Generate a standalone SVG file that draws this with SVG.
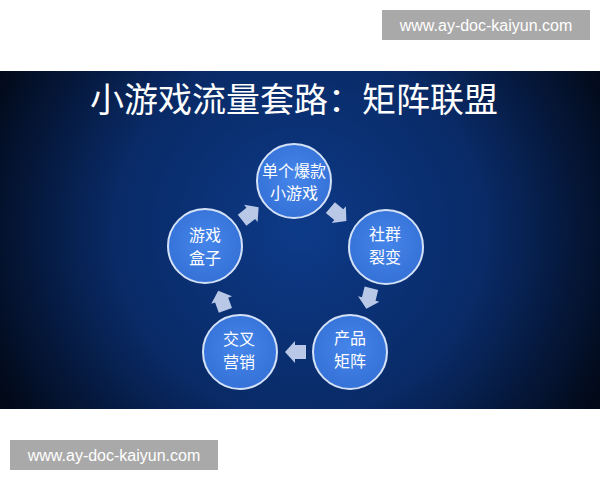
<svg xmlns="http://www.w3.org/2000/svg" width="600" height="480" viewBox="0 0 600 480">
<defs>
<radialGradient id="bg" cx="300" cy="230" r="340" gradientUnits="userSpaceOnUse">
<stop offset="0" stop-color="#0d3a88"/>
<stop offset="0.55" stop-color="#092a66"/>
<stop offset="1" stop-color="#020918"/>
</radialGradient>
<radialGradient id="cf" cx="0.5" cy="0.45" r="0.6">
<stop offset="0" stop-color="#4585ea"/>
<stop offset="1" stop-color="#3470d6"/>
</radialGradient>
<path id="arr" d="M-10,-7 L1,-7 L1,-11 L11,0 L1,11 L1,7 L-10,7 Z"/>
</defs>
<style>
.node circle{fill:url(#cf);stroke:#d3e1f7;stroke-width:2}
.node text{fill:#ffffff;font-family:"Noto Sans CJK SC","Noto Sans",sans-serif;font-size:16px;text-anchor:middle}
.wm rect{fill:#a9a9a9}
.wm text{fill:#ffffff;font-family:"Liberation Sans",Arial,sans-serif;font-size:16px;text-anchor:middle}
.conn use{fill:#b8c8e6}
</style>
<rect width="600" height="480" fill="#ffffff"/>
<rect x="0" y="71" width="600" height="338" fill="url(#bg)"/>
<text x="294" y="112" fill="#ffffff" font-family="Noto Sans CJK SC, sans-serif" font-size="34" text-anchor="middle">小游戏流量套路：矩阵联盟</text>
<g id="connectors" class="conn">
<use href="#arr" transform="translate(250,214) rotate(-38)"/>
<use href="#arr" transform="translate(338,214) rotate(40)"/>
<use href="#arr" transform="translate(369,298) rotate(104)"/>
<use href="#arr" transform="translate(296,352) rotate(180)"/>
<use href="#arr" transform="translate(222,301) rotate(-110)"/>
</g>
<g id="node-top" class="node">
<circle cx="294" cy="181" r="37"/>
<text x="294" y="177">单个爆款</text>
<text x="294" y="199">小游戏</text>
</g>
<g id="node-right" class="node">
<circle cx="386" cy="247" r="37"/>
<text x="385" y="240">社群</text>
<text x="385" y="263">裂变</text>
</g>
<g id="node-bottomright" class="node">
<circle cx="350" cy="352" r="37"/>
<text x="350" y="344">产品</text>
<text x="350" y="367">矩阵</text>
</g>
<g id="node-bottomleft" class="node">
<circle cx="240" cy="352" r="37"/>
<text x="239" y="345">交叉</text>
<text x="239" y="368">营销</text>
</g>
<g id="node-left" class="node">
<circle cx="205" cy="246" r="37"/>
<text x="205" y="241">游戏</text>
<text x="205" y="264">盒子</text>
</g>
<g id="wm-top" class="wm">
<rect x="382" y="10" width="208" height="30"/>
<text x="486" y="31">www.ay-doc-kaiyun.com</text>
</g>
<g id="wm-bottom" class="wm">
<rect x="10" y="440" width="208" height="30"/>
<text x="114" y="461">www.ay-doc-kaiyun.com</text>
</g>
</svg>
